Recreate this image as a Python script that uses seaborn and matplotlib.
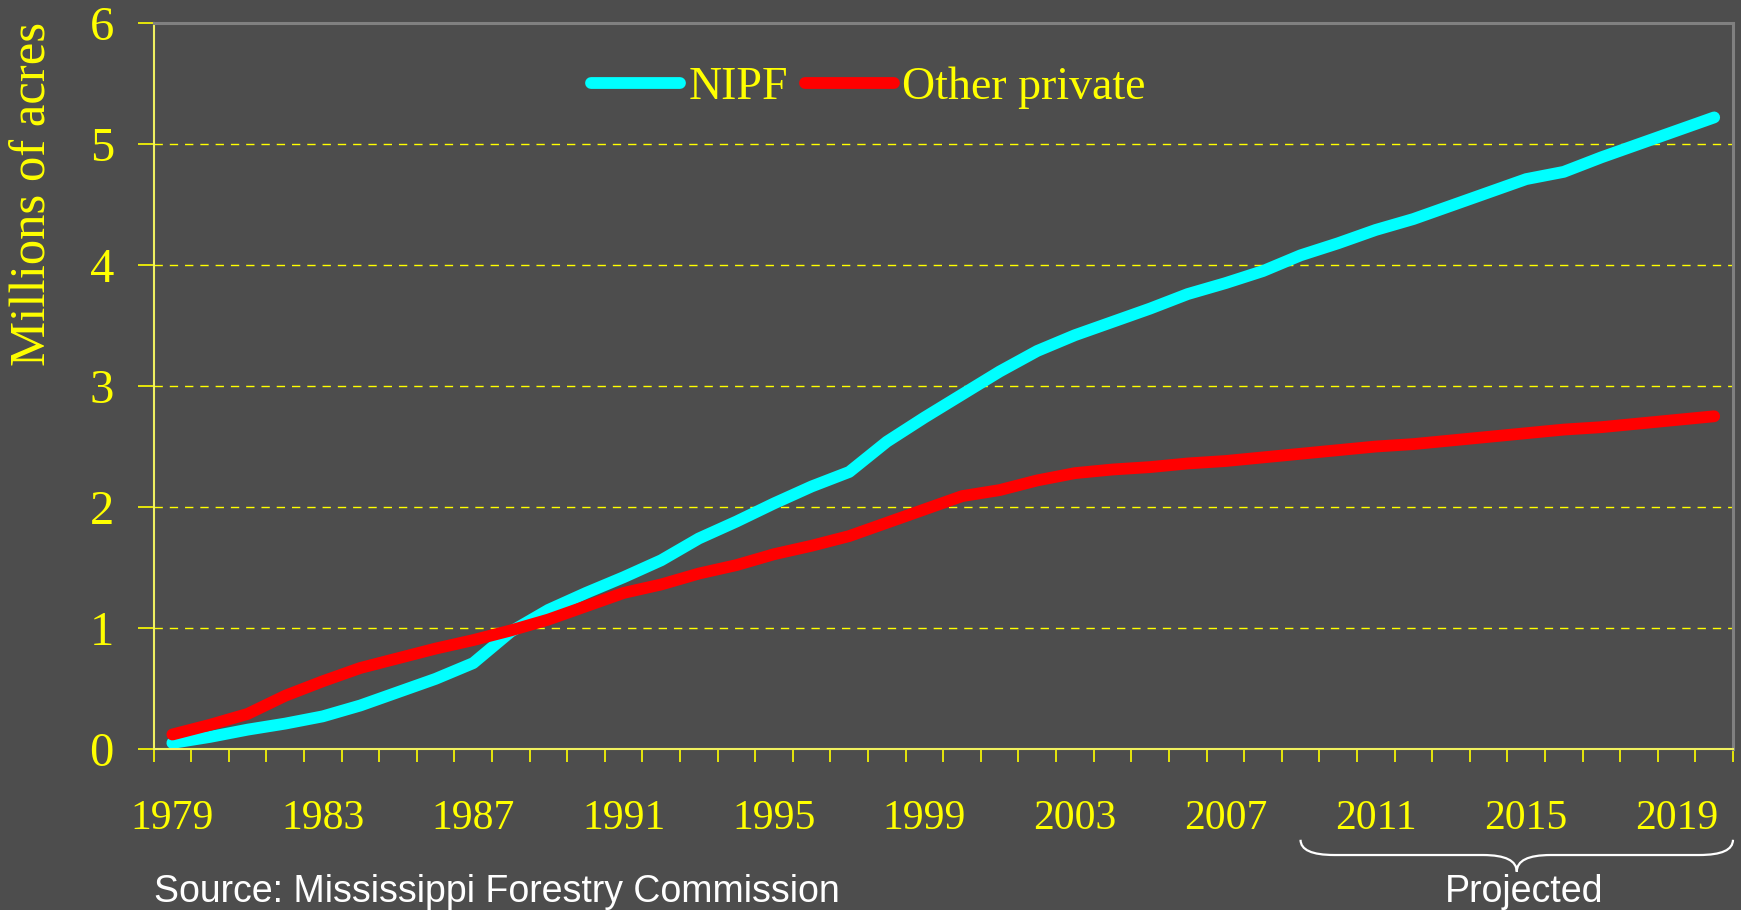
import numpy as np
import pandas as pd
import matplotlib
matplotlib.use("Agg")
import matplotlib.pyplot as plt
from matplotlib.path import Path
from matplotlib.patches import PathPatch
from matplotlib.transforms import blended_transform_factory
import seaborn as sns

# data (millions of acres)
years = list(range(1979, 2021))
nipf = [0.05, 0.10, 0.16, 0.21, 0.27, 0.36, 0.47, 0.58, 0.71, 0.97,
        1.15, 1.29, 1.42, 1.56, 1.74, 1.88, 2.03, 2.17, 2.29, 2.54,
        2.74, 2.93, 3.12, 3.29, 3.42, 3.53, 3.64, 3.76, 3.85, 3.95,
        4.08, 4.18, 4.29, 4.38, 4.49, 4.60, 4.71, 4.77, 4.89, 5.00,
        5.11, 5.22]
other_private = [0.12, 0.20, 0.29, 0.44, 0.56, 0.67, 0.75, 0.83, 0.90, 0.98,
                 1.07, 1.18, 1.29, 1.36, 1.45, 1.52, 1.61, 1.68, 1.76, 1.87,
                 1.98, 2.09, 2.14, 2.22, 2.28, 2.31, 2.33, 2.36, 2.38, 2.41,
                 2.44, 2.47, 2.50, 2.52, 2.55, 2.58, 2.61, 2.64, 2.66, 2.69,
                 2.72, 2.75]
series_names = ["NIPF", "Other private"]
label_years = [1979, 1983, 1987, 1991, 1995, 1999, 2003, 2007, 2011, 2015, 2019]
y_ticks = [0, 1, 2, 3, 4, 5, 6]
projected_start = 2009

df = pd.DataFrame({
    "year": years * 2,
    "acres": nipf + other_private,
    "series": [series_names[0]] * len(years) + [series_names[1]] * len(years),
})

BG = "#4d4d4d"
YEL = "#ffff00"

sns.set_theme(style="ticks")
plt.rcParams["font.family"] = ["Liberation Serif", "DejaVu Serif"]

fig = plt.figure(figsize=(17.41, 9.10), dpi=100, facecolor=BG)
ax = fig.add_axes([0.0882, 0.1769, 0.9072, 0.7978])
ax.set_facecolor(BG)

sns.lineplot(data=df, x="year", y="acres", hue="series", hue_order=series_names,
             palette=["#00ffff", "#ff0000"], linewidth=8.5, legend=False,
             solid_capstyle="round", solid_joinstyle="round", ax=ax)

ax.set_xlim(years[0] - 0.5, years[-1] + 0.5)
ax.set_ylim(0, 6)

# x axis: tick marks at year boundaries, labels centred every 4 years
ax.set_xticks(np.arange(years[0] - 0.5, years[-1] + 1, 1))
ax.set_xticklabels([])
ax.set_xticks(label_years, minor=True)
ax.set_xticklabels([str(y) for y in label_years], minor=True)
ax.tick_params(axis="x", which="major", direction="out", length=9, width=1.2, color=YEL)
ax.tick_params(axis="x", which="minor", length=0, pad=36, labelsize=30, labelcolor=YEL)

ax.set_yticks(y_ticks)
ax.tick_params(axis="y", direction="out", length=11.5, width=1.2, color=YEL,
               pad=17, labelsize=35, labelcolor=YEL)

ax.set_xlabel("")
ax.set_ylabel("Millions of acres", fontsize=36.5, color=YEL)
ax.yaxis.label.set_verticalalignment("center")
ax.yaxis.set_label_coords(-0.0763, 0.7645)

ax.yaxis.grid(True, color=YEL, linestyle=(0, (6, 5)), linewidth=1)
ax.xaxis.grid(False)

for side in ["top", "right"]:
    ax.spines[side].set_color("#808080")
    ax.spines[side].set_linewidth(2.2)
for side in ["left", "bottom"]:
    ax.spines[side].set_color("#f0f060")
    ax.spines[side].set_linewidth(1.5)

leg = ax.legend(ax.lines[:2], series_names, ncol=2, frameon=False,
                loc="center left", bbox_to_anchor=(591 / 1741, 1 - 88 / 910),
                bbox_transform=fig.transFigure, borderpad=0, borderaxespad=0,
                handlelength=1.95, handletextpad=0.17, columnspacing=0.37,
                prop={"family": "Liberation Serif", "size": 33}, labelcolor=YEL)

# brace under the projected years
trans = blended_transform_factory(ax.transData, ax.transAxes)
x0, x1 = projected_start, years[-1] + 0.5
xm = (x0 + x1) / 2
dx = 0.9
y_top, y_mid, y_tip = -0.125, -0.146, -0.169
verts = [(x0, y_top), (x0, y_mid), (x0 + dx, y_mid), (xm - dx, y_mid),
         (xm, y_mid), (xm, y_tip), (xm, y_mid), (xm + dx, y_mid),
         (x1 - dx, y_mid), (x1, y_mid), (x1, y_top)]
codes = [Path.MOVETO, Path.CURVE3, Path.CURVE3, Path.LINETO,
         Path.CURVE3, Path.CURVE3, Path.CURVE3, Path.CURVE3,
         Path.LINETO, Path.CURVE3, Path.CURVE3]
ax.add_patch(PathPatch(Path(verts, codes), transform=trans, fill=False,
                       edgecolor="white", linewidth=1.6, clip_on=False))

ax.text(xm + 0.2, -0.2107, "Projected", transform=trans, ha="center", va="baseline",
        color="white", fontsize=27, family=["Liberation Sans", "DejaVu Sans"])
ax.text(0.0, -0.2107, "Source: Mississippi Forestry Commission", transform=ax.transAxes,
        ha="left", va="baseline", color="white", fontsize=27,
        family=["Liberation Sans", "DejaVu Sans"])

fig.savefig("out.png", dpi=100, facecolor=BG)
